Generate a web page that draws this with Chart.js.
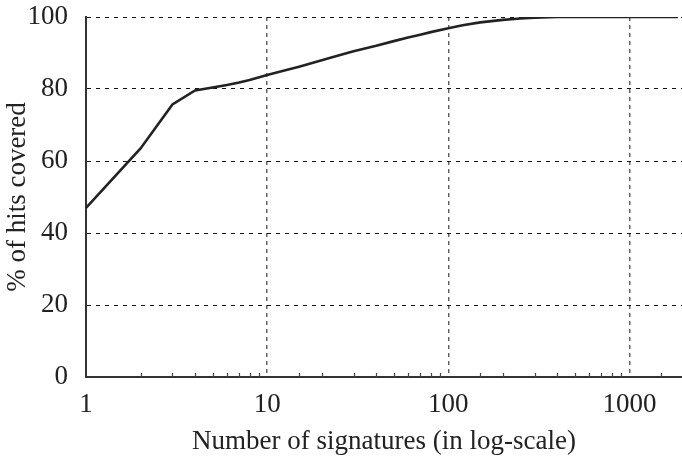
<!DOCTYPE html>
<html>
<head>
<meta charset="utf-8">
<script src="https://cdn.jsdelivr.net/npm/chart.js@4"></script>
<style>
  html, body { margin: 0; padding: 0; background: #fff; }
  #wrap { width: 682px; height: 461px; }
</style>
</head>
<body>
<div id="wrap"><canvas id="cover_chart"></canvas></div>
<script>
// number of signatures (log-scale) vs % of hits covered
var signatures = [1, 2, 3, 4, 5, 6, 7, 8, 10, 12, 15, 20, 25, 30, 40, 50, 60, 70, 80, 100,
    120, 150, 200, 250, 300, 400, 500, 1000, 1850];
var covered = [47, 63.5, 75.7, 79.6, 80.4, 81.1, 81.8, 82.5, 83.9, 84.9, 86.2, 88.0, 89.4, 90.5, 92.0, 93.3, 94.3, 95.1, 95.8, 96.9,
    97.7, 98.5, 99.2, 99.6, 99.8, 100, 100, 100, 100];
var xTicks = [1, 10, 100, 1000];
var yTicks = [0, 20, 40, 60, 80, 100];

var serif = 'Liberation Serif';

function isMajor(v) {
    return xTicks.indexOf(v) >= 0;
}

// little inner tick marks for 2..9, 20..90 etc on the bottom axis
var minorTicks = {
    id: 'minorTicks',
    afterDraw: function (chart) {
        var sx = chart.scales.x, area = chart.chartArea, c = chart.ctx;
        c.save();
        c.strokeStyle = '#444';
        c.lineWidth = 1.2;
        sx.ticks.forEach(function (t) {
            if (isMajor(t.value) || t.value >= sx.max) return;
            var px = Math.round(sx.getPixelForValue(t.value)) + 0.5;
            c.beginPath();
            c.moveTo(px, area.bottom);
            c.lineTo(px, area.bottom - 4);
            c.stroke();
        });
        c.restore();
    }
};

var ctx = document.getElementById('cover_chart').getContext('2d');
var chart = new Chart(ctx, {
    type: 'line',
    data: {
        datasets: [{
            data: signatures.map(function (s, i) { return {x: s, y: covered[i]}; }),
            borderColor: '#222',
            borderWidth: 2.6,
            pointRadius: 0,
            tension: 0,
            fill: false
        }]
    },
    options: {
        responsive: true,
        maintainAspectRatio: false,
        animation: false,
        layout: {padding: {top: 17, left: 0, right: 0, bottom: 0}},
        plugins: {
            legend: {display: false},
            tooltip: {enabled: false}
        },
        scales: {
            x: {
                type: 'logarithmic',
                min: 1,
                max: 1950,
                afterFit: function (s) {
                    s.height = 84;
                    s.paddingLeft = 0;
                    s.paddingRight = 0;
                },
                grid: {
                    drawTicks: false,
                    lineWidth: 1.5,
                    color: function (c) {
                        var v = c.tick ? c.tick.value : 0;
                        return (isMajor(v) && v > 1) ? '#666' : 'rgba(0,0,0,0)';
                    }
                },
                border: {display: true, color: '#333', width: 2, dash: [4, 4]},
                ticks: {
                    autoSkip: false,
                    maxRotation: 0,
                    padding: 12,
                    color: '#222',
                    font: {family: serif, size: 27},
                    callback: function (v) { return isMajor(v) ? String(v) : ''; }
                },
                title: {
                    display: true,
                    text: 'Number of signatures (in log-scale)',
                    color: '#222',
                    font: {family: serif, size: 27},
                    padding: {top: 0, bottom: 3}
                }
            },
            y: {
                min: 0,
                max: 100,
                afterFit: function (s) {
                    s.width = 86;
                    s.paddingTop = 0;
                    s.paddingBottom = 0;
                },
                afterBuildTicks: function (s) {
                    s.ticks = yTicks.map(function (v) { return {value: v}; });
                },
                grid: {
                    drawTicks: false,
                    lineWidth: 1,
                    color: function (c) {
                        return (c.tick && c.tick.value === 0) ? 'rgba(0,0,0,0)' : '#111';
                    }
                },
                border: {display: true, color: '#333', width: 2, dash: [4, 5]},
                ticks: {
                    padding: 18,
                    color: '#222',
                    font: {family: serif, size: 27}
                },
                title: {
                    display: true,
                    text: '% of hits covered',
                    color: '#222',
                    font: {family: serif, size: 27},
                    padding: {top: 2, bottom: 0}
                }
            }
        }
    },
    plugins: [minorTicks]
});
</script>
</body>
</html>
